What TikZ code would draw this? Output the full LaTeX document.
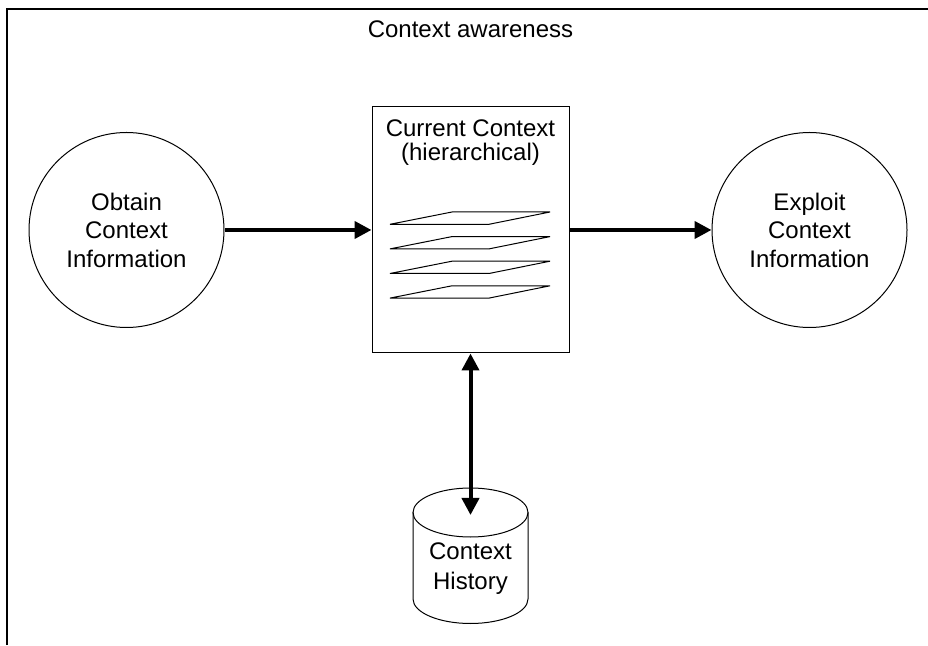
\documentclass[tikz,border=0pt]{standalone}
\usepackage{fontspec}
\setmainfont{Liberation Sans}
\usetikzlibrary{arrows.meta}
\begin{document}
\begin{tikzpicture}[x=1pt,y=1pt,
  every node/.style={font=\fontsize{24}{28.5}\selectfont, text=black, inner sep=0pt},
  frameline/.style={line width=2pt, black},
  thin/.style={line width=1pt, black},
  procnode/.style={circle, draw, thin, minimum size=195pt, align=center},
  flow/.style={line width=4pt, -{Triangle[length=17pt,width=17pt]}},
  twoflow/.style={line width=4pt, {Triangle[length=17pt,width=17pt]}-{Triangle[length=17pt,width=17pt]}},
  layer/.style={thin, line join=miter}]
  \useasboundingbox (0,0) rectangle (928,645);

  % open frame: top and left edges only
  \draw[frameline] (6.7,0) -- (6.7,636) -- (928,636);
  \node (title) at (470.5,616) {Context awareness};

  % the two processes
  \node[procnode] (obtain) at (126.5,415) {Obtain\\Context\\Information};
  \node[procnode] (exploit) at (809.5,415) {Exploit\\Context\\Information};

  % current context store
  \node[draw, thin, rectangle, minimum width=197pt, minimum height=246pt] (cur) at (470.5,415) {};
  \node[align=center, font=\fontsize{24}{24.5}\selectfont] (curtxt) at (470.5,502.5) {Current Context\\(hierarchical)};

  % stacked hierarchy layers
  \foreach \t in {433,408.4,383.8,359.2}{
    \draw[layer] (390,\t-12.3) -- (489,\t-12.3) -- (550,\t) -- (452,\t) -- cycle;
  }

  % history cylinder
  \draw[thin] (413,132.5) -- (413,46) arc[start angle=180, end angle=360, x radius=57.5pt, y radius=24.5pt] -- (528,132.5);
  \draw[thin] (470.5,132.5) ellipse[x radius=57.5pt, y radius=24.5pt];
  \node[align=center, font=\fontsize{24}{29.5}\selectfont] (hist) at (470.5,76.25) {Context\\History};
  \coordinate (histin) at (470.5,130);

  % connectors
  \draw[flow] (obtain.east) -- (cur.west);
  \draw[flow] (cur.east) -- (exploit.west);
  \draw[twoflow] (cur.south) -- (histin);
\end{tikzpicture}
\end{document}
